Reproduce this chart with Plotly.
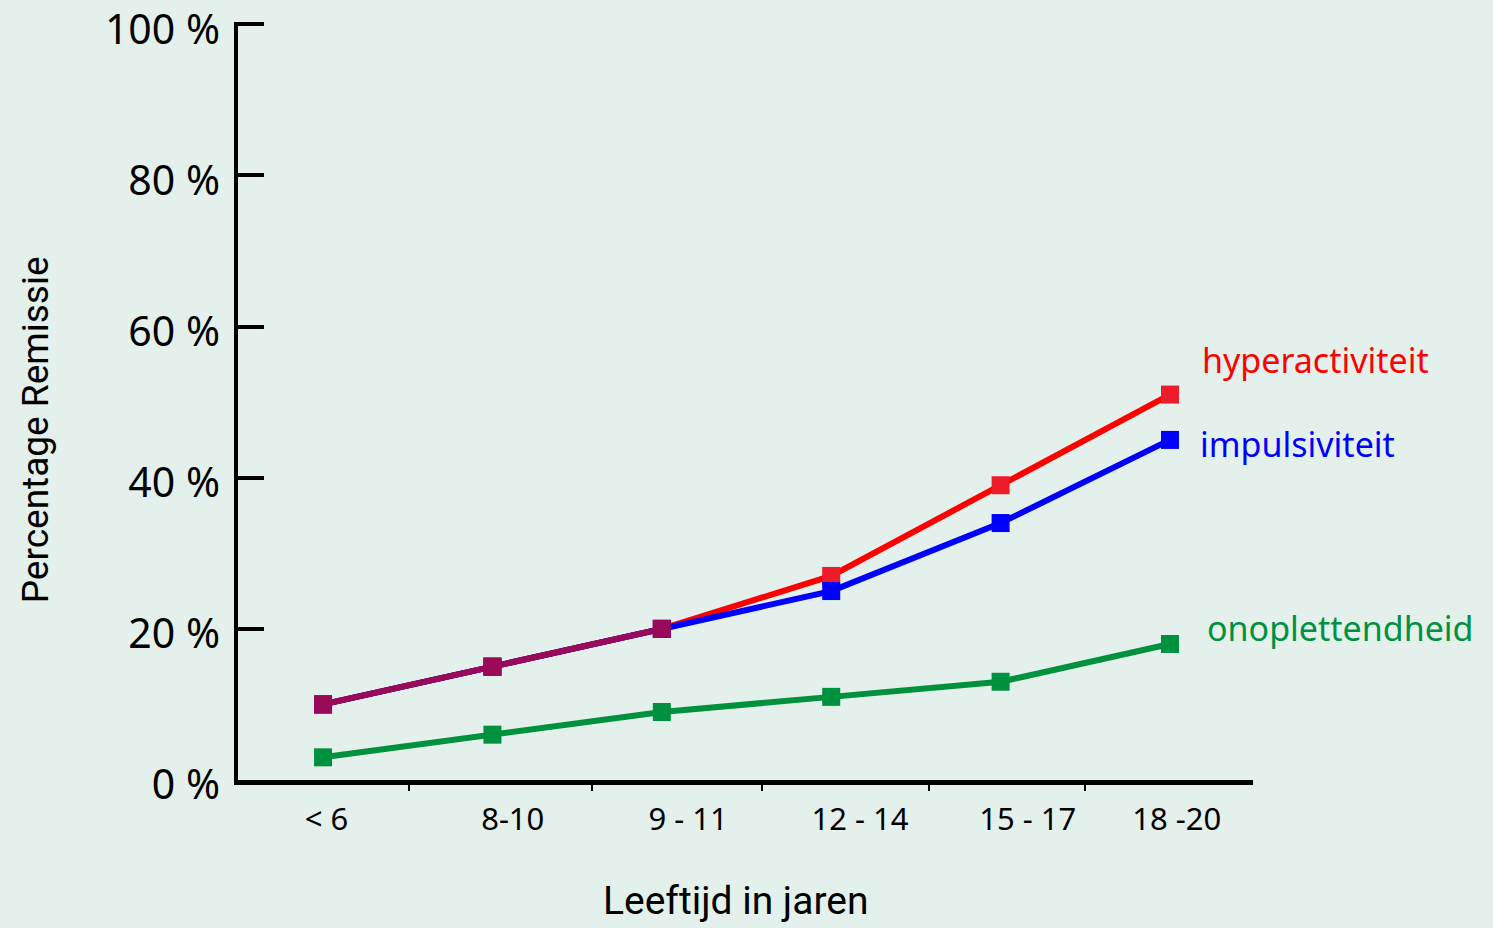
import plotly.graph_objects as go

categories = ["< 6", "8-10", "9 - 11", "12 - 14", "15 - 17", "18 -20"]
hyperactiviteit = [10, 15, 20, 27, 39, 51]
impulsiviteit = [10, 15, 20, 25, 34, 45]
onoplettendheid = [3, 6, 9, 11, 13, 18]
y_ticks = [0, 20, 40, 60, 80, 100]
y_tick_text = ["0 %", "20 %", "40 %", "60 %", "80 %", "100 %"]
# where the category labels and the small separator ticks sit along the x axis
x_label_pos = [0.02, 1.12, 2.155, 3.17, 4.16, 5.04]
x_minor_ticks = [0.51, 1.59, 2.59, 3.58, 4.50]

xi = list(range(len(categories)))

# shared (overlapping) prefix of hyperactiviteit and impulsiviteit
n_common = 0
for a, b in zip(hyperactiviteit, impulsiviteit):
    if a == b:
        n_common += 1
    else:
        break
n_common = max(n_common, 1)

RED_LINE = "#ff0000"
RED_MARK = "#ec1c2a"
BLUE = "#0000ff"
GREEN = "#00913f"
PURPLE = "#9a0a58"

BG = "#e4f0eb"
TICK_FONT = "Noto Sans"
COND_FONT = "Roboto"

fig = go.Figure()

# invisible traces to activate the helper axes (y labels / separator ticks)
fig.add_trace(go.Scatter(x=[xi[0]], y=[50], yaxis="y2", mode="markers",
                         marker=dict(opacity=0), hoverinfo="skip", showlegend=False))

def add_series(y, line_color, mark_color, name):
    fig.add_trace(go.Scatter(
        x=xi[:len(y)], y=y, mode="lines+markers",
        line=dict(color=line_color, width=6),
        marker=dict(symbol="square", size=18, color=mark_color, line=dict(width=0)),
        name=name, showlegend=False,
    ))

add_series(hyperactiviteit, RED_LINE, RED_MARK, "hyperactiviteit")
add_series(impulsiviteit, BLUE, BLUE, "impulsiviteit")
add_series(hyperactiviteit[:n_common], PURPLE, PURPLE, "overlap")
add_series(onoplettendheid, GREEN, GREEN, "onoplettendheid")

fig.add_trace(go.Scatter(x=[xi[0]], y=[0], xaxis="x2", mode="markers",
                         marker=dict(opacity=0), hoverinfo="skip", showlegend=False))

W, H = 1493, 928
TOP, BOTTOM = 22, 140
area_h = H - TOP - BOTTOM
axis_bottom_px = 780     # pixel row of the x axis
label_drop_px = 5        # y labels sit a few px under their ticks
main_dom = [(H - BOTTOM - axis_bottom_px) / area_h, 1.0]
lab_dom = [main_dom[0] - label_drop_px / area_h, 1.0 - label_drop_px / area_h]

xrange = [-0.502, 5.49]
yrange = [0, 100.3]

fig.update_layout(
    width=W, height=H,
    margin=dict(l=238, r=240, t=TOP, b=BOTTOM, autoexpand=False),
    paper_bgcolor=BG, plot_bgcolor="rgba(0,0,0,0)",
    xaxis=dict(
        range=xrange, tickmode="array", tickvals=x_label_pos, ticktext=categories,
        ticks="", showgrid=False, zeroline=False, automargin=False, anchor="y",
        showline=True, linecolor="black", linewidth=5,
        tickfont=dict(family=TICK_FONT, size=31, color="black"),
        ticklabelstandoff=8,
    ),
    xaxis2=dict(
        range=xrange, overlaying="x", anchor="y", side="bottom",
        tickmode="array", tickvals=x_minor_ticks, showticklabels=False,
        ticks="outside", ticklen=10, tickwidth=2, tickcolor="black",
        showgrid=False, zeroline=False, showline=False, automargin=False,
    ),
    yaxis=dict(
        range=yrange, domain=main_dom, tickmode="array", tickvals=y_ticks,
        ticks="inside", ticklen=26, tickwidth=4, tickcolor="black",
        showgrid=False, zeroline=False, automargin=False, showticklabels=False,
        showline=True, linecolor="black", linewidth=4,
    ),
    yaxis2=dict(
        range=yrange, domain=lab_dom, anchor="x", side="left",
        tickmode="array", tickvals=y_ticks, ticktext=y_tick_text,
        ticks="", showgrid=False, zeroline=False, showline=False, automargin=False,
        tickfont=dict(family=TICK_FONT, size=41, color="black"),
        ticklabelstandoff=17, ticklabeloverflow="allow",
    ),
    annotations=[
        dict(text="Percentage Remissie", xref="paper", yref="paper",
             x=-0.2, y=0.467, xanchor="center", yanchor="middle", textangle=-90,
             showarrow=False, font=dict(family=COND_FONT, size=37, color="black")),
        dict(text="Leeftijd in jaren", xref="paper", yref="paper",
             x=0.49, y=-0.147, xanchor="center", yanchor="middle",
             showarrow=False, font=dict(family=COND_FONT, size=39, color="black")),
        dict(text="hyperactiviteit", x=xi[-1], y=hyperactiviteit[-1],
             xanchor="left", yanchor="middle", xshift=30, yshift=35,
             showarrow=False, font=dict(family=TICK_FONT, size=34, color=RED_LINE)),
        dict(text="impulsiviteit", x=xi[-1], y=impulsiviteit[-1],
             xanchor="left", yanchor="middle", xshift=28, yshift=-4,
             showarrow=False, font=dict(family=TICK_FONT, size=34, color=BLUE)),
        dict(text="onoplettendheid", x=xi[-1], y=onoplettendheid[-1],
             xanchor="left", yanchor="middle", xshift=35, yshift=16,
             showarrow=False, font=dict(family=TICK_FONT, size=34, color=GREEN)),
    ],
)

fig.write_html("out.html")
